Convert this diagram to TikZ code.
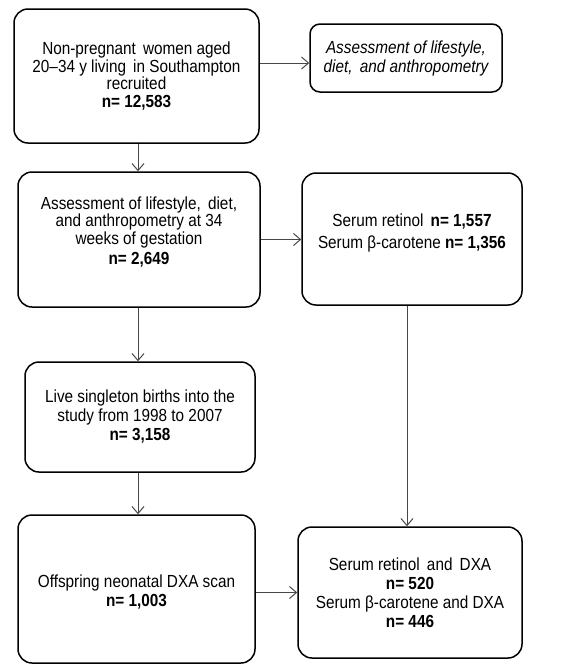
\documentclass[tikz,border=0pt]{standalone}
\usepackage{fontspec}
\setmainfont{Liberation Sans}[FakeStretch=0.875]
\usetikzlibrary{arrows.meta}
\begin{document}
\begin{tikzpicture}[x=1pt,y=-1pt,
  box/.style={draw=black, line width=1.5pt, rounded corners=14pt, align=center,
    inner sep=0pt, anchor=center, font=\fontsize{17.5pt}{19pt}\selectfont},
  conn/.style={draw=black!72, line width=1pt, -{Straight Barb[length=7pt,width=12pt]}}]
\useasboundingbox (0,0) rectangle (577,665);

\node[box, minimum width=245pt, minimum height=134pt,
  font=\fontsize{17.5pt}{17.5pt}\selectfont] (b1) at (136.5,76)
  {Non-pregnant\, women aged\\20–34 y living\, in Southampton\\recruited\\\textbf{n= 12,583}};
\node[box, minimum width=192pt, minimum height=68pt, rounded corners=10pt] (bA) at (406,58)
  {\itshape Assessment of lifestyle,\\\itshape diet,\, and anthropometry};

\node[box, minimum width=242pt, minimum height=135pt,
  font=\fontsize{17.5pt}{17.5pt}\selectfont] (b2) at (139,239.5)
  {Assessment of lifestyle,\, diet,\\and anthropometry at 34\\weeks of gestation\\[3pt]\textbf{n= 2,649}\\[0pt]};
\node[box, minimum width=220pt, minimum height=132pt] (bS) at (412,239)
  {Serum retinol\, \textbf{n= 1,557}\\[3pt]Serum β-carotene \textbf{n= 1,356}\\[-3pt]};

\node[box, minimum width=230pt, minimum height=110pt] (b3) at (140,417)
  {Live singleton births into the\\study from 1998 to 2007\\\textbf{n= 3,158}};

\node[box, minimum width=237pt, minimum height=148pt] (b4) at (136.5,589)
  {\rule{0pt}{19pt}Offspring neonatal DXA scan\\\textbf{n= 1,003}};
\node[box, minimum width=224pt, minimum height=131pt] (bR) at (410,592.5)
  {Serum retinol\, and\, DXA\\\textbf{n= 520}\\Serum β-carotene and DXA\\\textbf{n= 446}};

\coordinate (XL) at (138,0);
\coordinate (XR) at (407,0);
\coordinate (Y1) at (0,63);

\draw[conn] (b1.east |- Y1) -- (bA.west |- Y1);
\draw[conn] (b1.south -| XL) -- (b2.north -| XL);
\draw[conn] (b2.east) -- (bS.west |- b2.east);
\draw[conn] (b2.south -| XL) -- (b3.north -| XL);
\draw[conn] (b3.south -| XL) -- (b4.north -| XL);
\draw[conn] (bS.south -| XR) -- (bR.north -| XR);
\draw[conn] (b4.east |- bR.west) -- (bR.west);
\end{tikzpicture}
\end{document}
